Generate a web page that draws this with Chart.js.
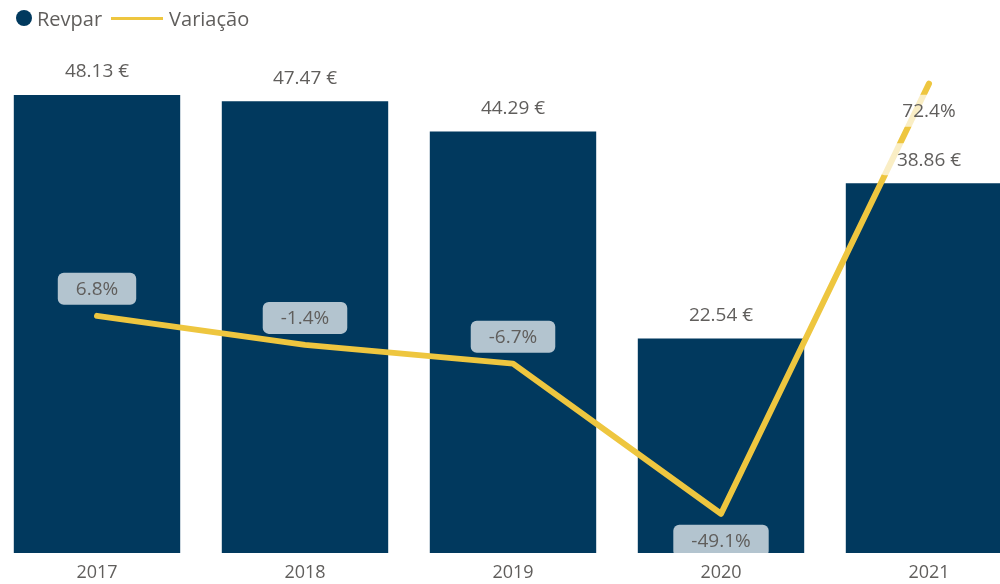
<!DOCTYPE html>
<html>
<head>
<meta charset="utf-8">
<script src="https://cdn.jsdelivr.net/npm/chart.js@4.4.1/dist/chart.umd.min.js"></script>
<style>
html,body{margin:0;padding:0;background:#fff;overflow:hidden;}
#wrap{position:relative;width:1000px;height:584px;overflow:hidden;background:#fff;}
#legend{position:absolute;left:16px;top:5px;height:26px;display:flex;align-items:center;font-family:"Open Sans",sans-serif;font-size:20px;color:#605E5C;z-index:2;}
#legend .dot{width:16px;height:16px;border-radius:50%;background:#01395E;margin-right:5px;}
#legend .ln{width:52px;height:3px;background:#EEC63F;margin-left:9px;margin-right:6px;}
#box{position:absolute;left:-7px;top:0;width:1040px;height:584px;}
#c{display:block;width:1040px;height:584px;}
</style>
</head>
<body>
<div id="wrap">
  <div id="legend"><span class="dot"></span><span>Revpar</span><span class="ln"></span><span>Variação</span></div>
  <div id="box"><canvas id="c" width="1040" height="584"></canvas></div>
</div>
<script>
const years = ['2017', '2018', '2019', '2020', '2021'];
const revpar = [48.13, 47.47, 44.29, 22.54, 38.86];
const variacao = [6.8, -1.4, -6.7, -49.1, 72.4];
const revparText = revpar.map(v => v.toFixed(2) + ' €');
const variacaoText = variacao.map(v => v.toFixed(1) + '%');

const NAVY = '#01395E';
const YELLOW = '#EEC63F';
const TEXT = '#605E5C';
const FONT = '"Open Sans", sans-serif';

function drawBox(ctx, x, y, w, h) {
  ctx.fillStyle = 'rgba(255,255,255,0.7)';
  ctx.beginPath();
  ctx.roundRect(x, y, w, h, 6);
  ctx.fill();
}

const labelPlugin = {
  id: 'valueLabels',
  afterDatasetsDraw(chart) {
    const {ctx, chartArea} = chart;
    ctx.save();
    ctx.beginPath();
    ctx.rect(chartArea.left, chartArea.top, chartArea.right - chartArea.left, chartArea.bottom - chartArea.top);
    ctx.clip();
    ctx.font = '19px ' + FONT;
    ctx.textAlign = 'center';
    ctx.textBaseline = 'middle';
    const H = 32;
    // bar labels
    chart.getDatasetMeta(0).data.forEach((el, i) => {
      const t = revparText[i];
      const w = ctx.measureText(t).width + 36;
      const cy = el.y - 8 - H / 2;
      drawBox(ctx, el.x - w / 2, cy - H / 2, w, H);
      ctx.fillStyle = TEXT;
      ctx.fillText(t, el.x, cy + 1);
    });
    // line labels
    const pts = chart.getDatasetMeta(1).data;
    pts.forEach((el, i) => {
      const t = variacaoText[i];
      const w = ctx.measureText(t).width + 36;
      const prev = i > 0 ? variacao[i - 1] : -Infinity;
      const next = i < variacao.length - 1 ? variacao[i + 1] : -Infinity;
      const localMin = variacao[i] < prev && variacao[i] < next;
      const noRoom = el.y - 11 - H - 40 < chartArea.top;
      const below = localMin || noRoom;
      const cy = below ? el.y + 11 + H / 2 : el.y - 11 - H / 2;
      drawBox(ctx, el.x - w / 2, cy - H / 2, w, H);
      ctx.fillStyle = TEXT;
      ctx.fillText(t, el.x, cy + 1);
    });
    ctx.restore();
  }
};

new Chart(document.getElementById('c'), {
  data: {
    labels: years,
    datasets: [
      {
        type: 'bar',
        label: 'Revpar',
        data: revpar,
        backgroundColor: NAVY,
        yAxisID: 'y',
        barPercentage: 0.8,
        categoryPercentage: 1.0,
        order: 2
      },
      {
        type: 'line',
        label: 'Variação',
        data: variacao,
        borderColor: YELLOW,
        backgroundColor: YELLOW,
        borderWidth: 6,
        borderCapStyle: 'round',
        borderJoinStyle: 'round',
        pointRadius: 0,
        pointHoverRadius: 0,
        tension: 0,
        yAxisID: 'y2',
        order: 1
      }
    ]
  },
  options: {
    responsive: false,
    maintainAspectRatio: false,
    animation: false,
    devicePixelRatio: 1,
    layout: {padding: {top: 38, left: 0, right: 0, bottom: 0}},
    plugins: {legend: {display: false}, tooltip: {enabled: false}},
    scales: {
      x: {
        grid: {display: false, drawTicks: false},
        border: {display: false},
        ticks: {color: TEXT, font: {family: FONT, size: 18}, padding: 9},
        afterFit: s => { s.height = 31; }
      },
      y: {display: false, min: 0, max: 54.12},
      y2: {display: false, position: 'right', min: -60.2, max: 85.3}
    }
  },
  plugins: [labelPlugin]
});
</script>
</body>
</html>
